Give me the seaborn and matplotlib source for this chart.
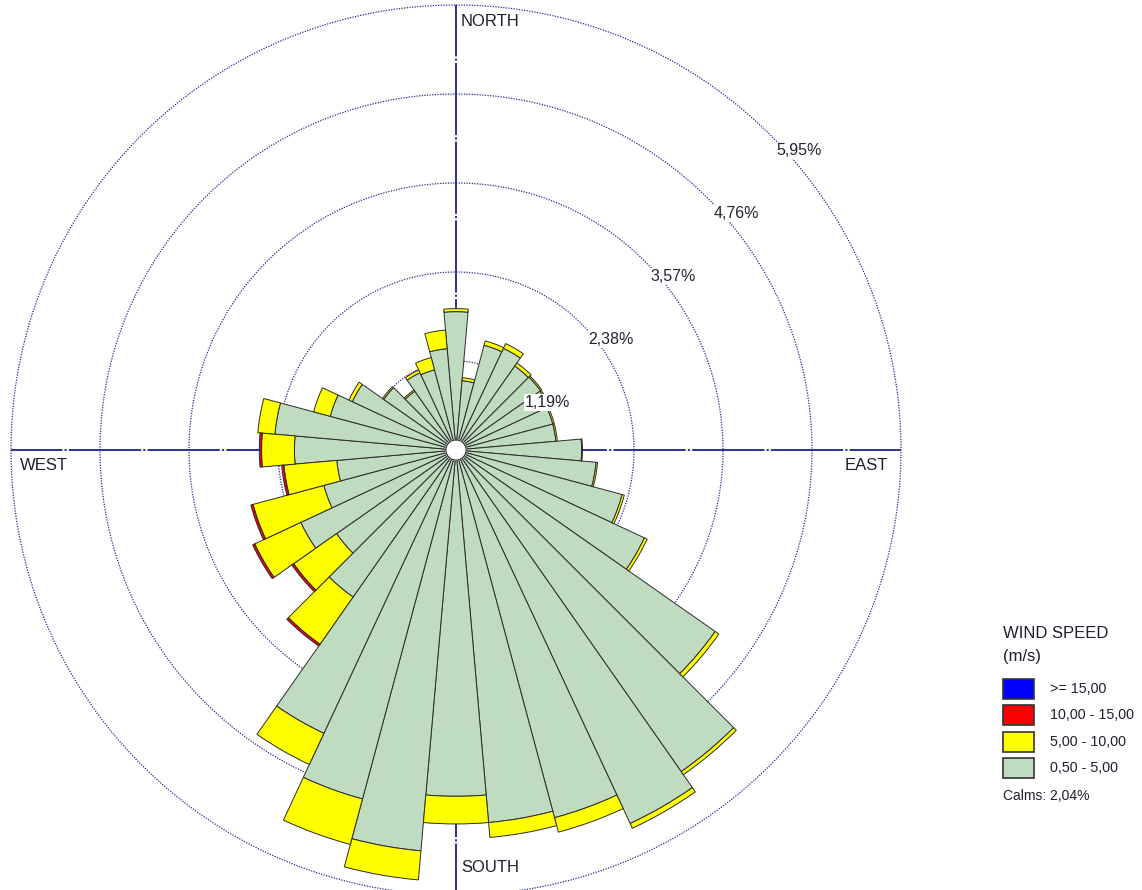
import numpy as np
import pandas as pd
import matplotlib
matplotlib.use('Agg')
import matplotlib.pyplot as plt
from matplotlib.patches import Rectangle
import seaborn as sns

# wind direction sectors (degrees, from north, clockwise)
directions = [0, 10, 20, 30, 40, 50, 60, 70, 80, 90, 100, 110,
              120, 130, 140, 150, 160, 170, 180, 190, 200, 210, 220, 230,
              240, 250, 260, 270, 280, 290, 300, 310, 320, 330, 340, 350]

# radial extent (%) of each speed class
speed_05_5 = [1.85, 0.93, 1.45, 1.50, 1.37, 1.38, 1.37, 1.34, 1.34, 1.68, 1.88, 2.30,
              2.78, 4.23, 5.25, 5.51, 5.09, 5.00, 4.63, 5.38, 4.83, 4.18, 2.40, 1.95,
              2.29, 1.83, 1.60, 2.16, 2.43, 1.74, 1.53, 1.18, 0.96, 1.14, 1.11, 1.36]
speed_5_10 = [0.04, 0.04, 0.06, 0.07, 0.05, 0.02, 0.02, 0.02, 0.02, 0.01, 0.02, 0.03,
              0.04, 0.06, 0.05, 0.07, 0.20, 0.20, 0.37, 0.39, 0.63, 0.46, 0.77, 0.70,
              0.68, 0.98, 0.71, 0.44, 0.23, 0.23, 0.05, 0.02, 0.02, 0.04, 0.17, 0.25]
speed_10_15 = [0, 0, 0, 0, 0, 0, 0, 0, 0, 0, 0, 0,
               0, 0, 0, 0, 0, 0, 0, 0, 0, 0, 0.03, 0.03,
               0.03, 0.03, 0.03, 0.03, 0, 0, 0, 0, 0, 0, 0, 0]
speed_15_up = [0] * 36

class_labels = ['>= 15,00', '10,00 - 15,00', '5,00 - 10,00', '0,50 - 5,00']
class_colors = ['#0000ff', '#ff0000', '#ffff00', '#c0dcc0']

ring_values = [1.19, 2.38, 3.57, 4.76, 5.95]
ring_labels = ['1,19%', '2,38%', '3,57%', '4,76%', '5,95%']
calms_text = 'Calms: 2,04%'


def main():
    sns.set_style('white')
    plt.rcParams['font.family'] = ['Liberation Sans', 'DejaVu Sans']

    W, H = 1142, 890
    fig = plt.figure(figsize=(W / 100, H / 100), dpi=100)

    cx, cy, R = 456, 450, 445  # centre and outer ring radius in pixels
    ax = fig.add_axes([(cx - R) / W, (H - cy - R) / H, 2 * R / W, 2 * R / H],
                      projection='polar')
    ax.set_theta_zero_location('N')
    ax.set_theta_direction(-1)
    ax.set_ylim(0, ring_values[-1])
    ax.grid(False)
    ax.set_xticks([])
    ax.set_yticks([])
    ax.spines['polar'].set_visible(False)
    ax.patch.set_alpha(0)

    line_col = '#2a2a9a'
    full = np.linspace(0, 2 * np.pi, 721)
    for rv in ring_values:
        ax.plot(full, np.full_like(full, rv), ls=(0, (1, 1.1)), lw=0.9,
                color=line_col, zorder=1, clip_on=False)
    for ang in [0, 90, 180, 270]:
        ax.plot([np.deg2rad(ang)] * 2, [0, ring_values[-1]], color='#1f1f8f',
                lw=1.3, ls=(0, (40, 1.2, 1.2, 1.2)), zorder=1,
                clip_on=False)

    df = pd.DataFrame({'dir': directions, 'c1': speed_05_5, 'c2': speed_5_10,
                       'c3': speed_10_15, 'c4': speed_15_up})
    width = np.deg2rad(10)
    bottom = np.zeros(len(df))
    for col, color in zip(['c1', 'c2', 'c3', 'c4'], class_colors[::-1]):
        vals = df[col].values
        keep = vals > 0
        if keep.any():
            ax.bar(np.deg2rad(df['dir'].values[keep]), vals[keep], width=width,
                   bottom=bottom[keep], color=color, edgecolor='#2b2b2b',
                   linewidth=0.7, align='center', zorder=3)
        bottom = bottom + vals

    # calm circle in the middle
    ax.fill(full, np.full_like(full, 0.135), color='white', zorder=5)
    ax.plot(full, np.full_like(full, 0.135), color='#2b2b2b', lw=0.8, zorder=6)

    # ring labels
    for rv, lab in zip(ring_values, ring_labels):
        ax.annotate(lab, xy=(np.pi / 4, rv), xytext=(6, -8),
                    textcoords='offset pixels', ha='left', va='top',
                    fontsize=11.5, color='#222233', zorder=7,
                    bbox=dict(boxstyle='square,pad=0.05', fc='white', ec='none'),
                    annotation_clip=False)

    txt_col = '#1e1e30'
    fig.text(461 / W, 1 - 22 / H, 'NORTH', ha='left', va='center', fontsize=12, color=txt_col)
    fig.text(461 / W, 1 - 867 / H, 'SOUTH', ha='left', va='center', fontsize=12, color=txt_col)
    fig.text(20 / W, 1 - 466 / H, 'WEST', ha='left', va='center', fontsize=12, color=txt_col)
    fig.text(845 / W, 1 - 466 / H, 'EAST', ha='left', va='center', fontsize=12, color=txt_col)

    # legend
    fig.text(1003 / W, 1 - 634 / H, 'WIND SPEED', ha='left', va='center', fontsize=12, color=txt_col)
    fig.text(1003 / W, 1 - 657 / H, '(m/s)', ha='left', va='center', fontsize=12, color=txt_col)
    box_top = 679
    for i, (lab, color) in enumerate(zip(class_labels, class_colors)):
        y0 = box_top + i * 26.3
        fig.add_artist(Rectangle((1003 / W, 1 - (y0 + 20) / H), 31 / W, 20 / H,
                                 transform=fig.transFigure, fc=color,
                                 ec='#333333', lw=1.2))
        fig.text(1050 / W, 1 - (y0 + 10) / H, lab, ha='left', va='center',
                 fontsize=10.3, color=txt_col)
    fig.text(1003 / W, 1 - 796 / H, calms_text, ha='left', va='center',
             fontsize=10, color=txt_col)

    fig.savefig('out.png', dpi=100, facecolor='white')


if __name__ == '__main__':
    main()
